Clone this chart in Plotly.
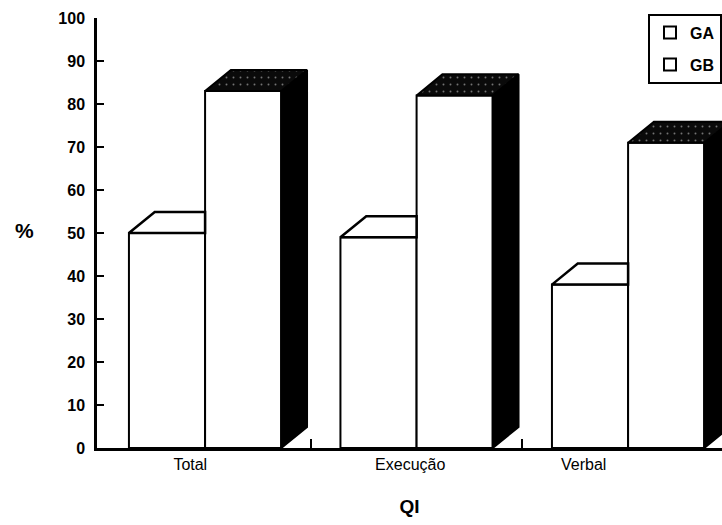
import plotly.graph_objects as go

# IQ sub-scale results (%) for the two groups
categories = ["Total", "Execução", "Verbal"]
ga_values = [50, 49, 38]
gb_values = [83, 82, 71]
y_ticks = [0, 10, 20, 30, 40, 50, 60, 70, 80, 90, 100]

# style constants
BAR_W = 0.36          # width of each bar (x units, one group = 1 unit)
DX, DY = 0.122, 4.9   # oblique depth of the pseudo-3D boxes
LABEL_SHIFT = [-0.07, -0.03, -0.21]
FONT = "Liberation Sans, Arial, sans-serif"
INK = "black"

pos = list(range(len(categories)))

fig = go.Figure()

# front faces
fig.add_trace(go.Bar(
    x=pos, y=ga_values, width=BAR_W, offset=-BAR_W, name="GA",
    marker=dict(color="white", line=dict(color=INK, width=2)),
    legendgroup="GA",
))
fig.add_trace(go.Bar(
    x=pos, y=gb_values, width=BAR_W, offset=0, name="GB",
    marker=dict(color="white", line=dict(color=INK, width=2)),
    legendgroup="GB",
))

for p, a, b in zip(pos, ga_values, gb_values):
    # GA top face (the part not hidden behind the GB box)
    x0, x1 = p - BAR_W, p
    fig.add_trace(go.Scatter(
        x=[x0, x0 + DX, x1, x1, x0], y=[a, a + DY, a + DY, a, a],
        mode="lines", fill="toself", fillcolor="white",
        line=dict(color=INK, width=2.5), showlegend=False, hoverinfo="skip",
    ))
    # GB side face
    x0, x1 = p, p + BAR_W
    fig.add_trace(go.Scatter(
        x=[x1, x1 + DX, x1 + DX, x1, x1], y=[0, DY, b + DY, b, 0],
        mode="lines", fill="toself", fillcolor=INK,
        line=dict(color=INK, width=2), showlegend=False, hoverinfo="skip",
    ))
    # GB top face, stippled
    fig.add_trace(go.Scatter(
        x=[x0, x0 + DX, x1 + DX, x1, x0], y=[b, b + DY, b + DY, b, b],
        mode="lines", fill="toself", fillcolor=INK,
        fillpattern=dict(shape=".", bgcolor="#0a0a0a", fgcolor="#dddddd",
                         size=7, solidity=0.06),
        line=dict(color=INK, width=2), showlegend=False, hoverinfo="skip",
    ))

fig.add_annotation(
    text="<b>%</b>", xref="paper", yref="paper", x=-0.135, y=0.505,
    showarrow=False, font=dict(family=FONT, size=21, color=INK),
)

fig.update_layout(
    width=722, height=525,
    margin=dict(l=97, r=0, t=18, b=77),
    paper_bgcolor="white", plot_bgcolor="white",
    showlegend=True,
    legend=dict(
        x=1, y=1.01, xanchor="right", yanchor="top",
        bordercolor=INK, borderwidth=2, bgcolor="white",
        font=dict(family=FONT, size=16, color=INK, weight="bold"),
        itemwidth=30, tracegroupgap=8,
    ),
    font=dict(family=FONT, color=INK),
)

fig.update_xaxes(
    range=[-0.511, 2.444],
    tickvals=[p + s for p, s in zip(pos, LABEL_SHIFT)],
    ticktext=categories, ticks="",
    tickfont=dict(family=FONT, size=16, color=INK),
    showline=True, linecolor=INK, linewidth=3,
    showgrid=False, zeroline=False,
    minor=dict(tickvals=[p + 0.5 for p in pos[:-1]], ticks="inside",
               ticklen=9, tickwidth=1.5, tickcolor=INK),
    title=dict(text="<b>QI</b>", font=dict(family=FONT, size=19, color=INK),
               standoff=28),
)
fig.update_yaxes(
    range=[0, 100], tickvals=y_ticks,
    ticks="inside", ticklen=7, tickwidth=2, tickcolor=INK,
    tickfont=dict(family=FONT, size=16, color=INK, weight="bold"),
    ticklabelstandoff=6,
    showline=True, linecolor=INK, linewidth=2.5,
    showgrid=False, zeroline=False,
)

fig.write_html("out.html")
